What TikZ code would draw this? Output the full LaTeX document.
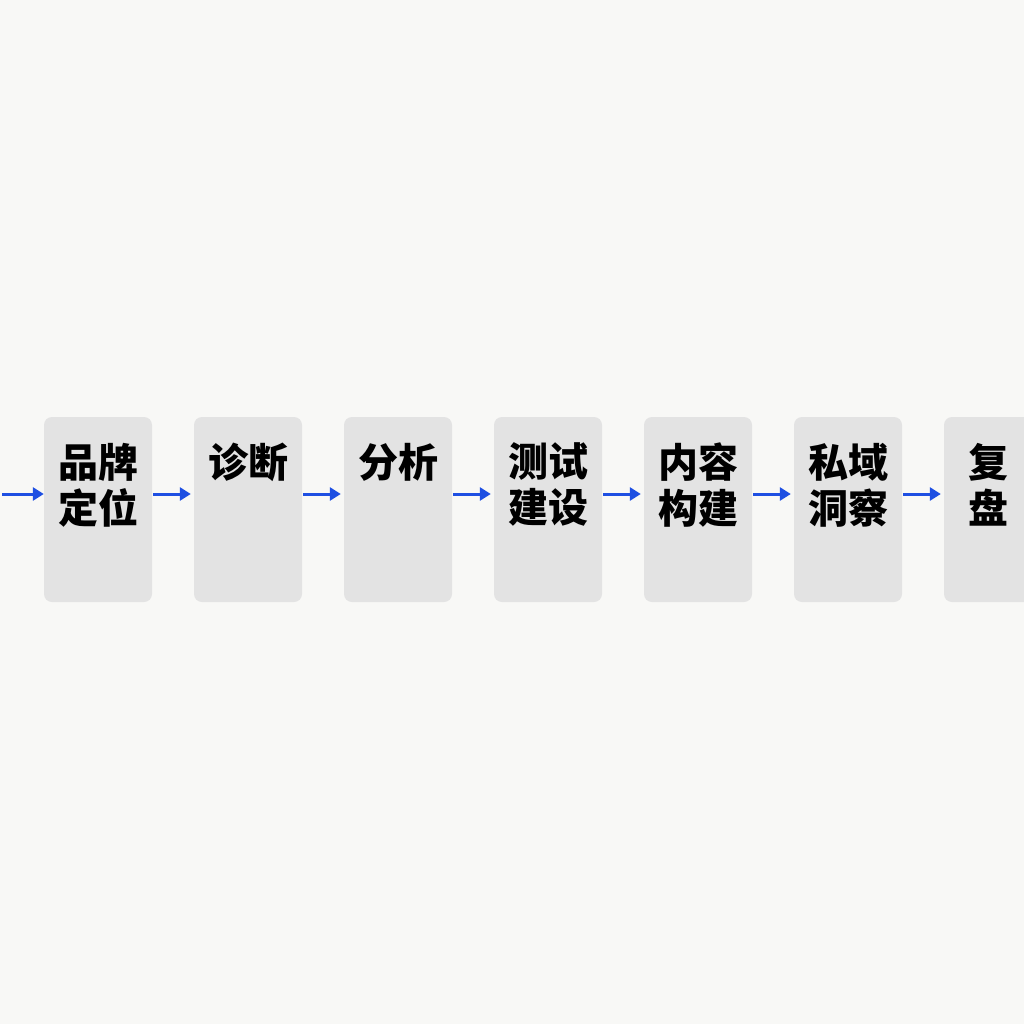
\documentclass[tikz,border=0pt]{standalone}
\usepackage{fontspec}
\usepackage{tikz}
\usepackage{xcolor}
\usetikzlibrary{arrows.meta}
\newfontfamily\cjk{Noto Sans CJK SC}
\definecolor{bggray}{HTML}{F8F8F6}
\definecolor{boxgray}{HTML}{E3E3E3}
\definecolor{flowblue}{HTML}{1E4FE2}

\begin{document}
\begin{tikzpicture}[x=1pt,y=-1pt,
  stage/.style={fill=boxgray, rounded corners=8pt, minimum width=108pt, minimum height=185pt, inner sep=0pt},
  label/.style={font=\cjk\bfseries\fontsize{40pt}{46pt}\selectfont, align=center, inner sep=0pt, anchor=north, yshift=-26pt},
  flow/.style={flowblue, line width=3pt, ->, >={Triangle[length=11pt,width=13pt]}}]
\fill[bggray] (0,0) rectangle (1024,1024);
\useasboundingbox (0,0) rectangle (1024,1024);

\node[stage] (brand) at (98,509.5) {};
\node[stage] (diag) at (248,509.5) {};
\node[stage] (anal) at (398,509.5) {};
\node[stage] (test) at (548,509.5) {};
\node[stage] (cont) at (698,509.5) {};
\node[stage] (priv) at (848,509.5) {};
\node[stage] (review) at (998,509.5) {};

\node[label] (brandtxt) at (brand.north) {品牌\\定位};
\node[label] (diagtxt) at (diag.north) {诊断};
\node[label] (analtxt) at (anal.north) {分析};
\node[label] (testtxt) at (test.north) {测试\\建设};
\node[label] (conttxt) at (cont.north) {内容\\构建};
\node[label] (privtxt) at (priv.north) {私域\\洞察};
\node[label] (reviewtxt) at ([xshift=-10pt]review.north) {复\\盘};

\coordinate (start) at (2,494);
\draw[flow] (start) -- (start -| brand.west);
\draw[flow] ([shift={(1pt,15.5pt)}]brand.east) -- ([shift={(-3pt,15.5pt)}]diag.west);
\draw[flow] ([shift={(1pt,15.5pt)}]diag.east) -- ([shift={(-3pt,15.5pt)}]anal.west);
\draw[flow] ([shift={(1pt,15.5pt)}]anal.east) -- ([shift={(-3pt,15.5pt)}]test.west);
\draw[flow] ([shift={(1pt,15.5pt)}]test.east) -- ([shift={(-3pt,15.5pt)}]cont.west);
\draw[flow] ([shift={(1pt,15.5pt)}]cont.east) -- ([shift={(-3pt,15.5pt)}]priv.west);
\draw[flow] ([shift={(1pt,15.5pt)}]priv.east) -- ([shift={(-3pt,15.5pt)}]review.west);

\end{tikzpicture}
\end{document}
